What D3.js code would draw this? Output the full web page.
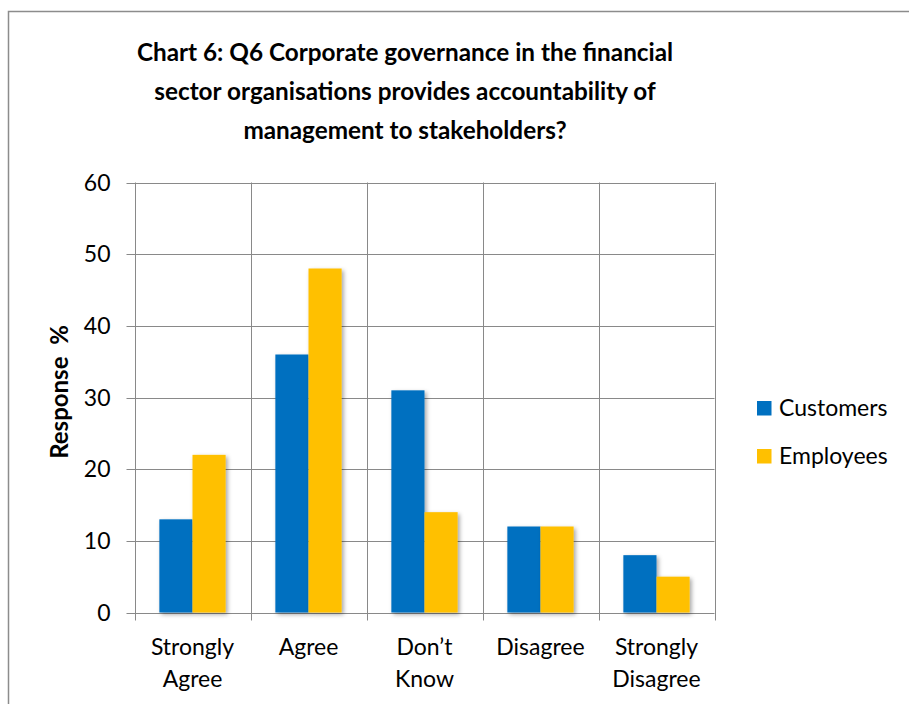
<!DOCTYPE html>
<html>
<head>
<meta charset="utf-8">
<script src="https://cdn.jsdelivr.net/npm/d3@7"></script>
<style>
  body { margin: 0; background: #fff; }
  svg { display: block; font-family: Lato, "Open Sans", sans-serif; }
</style>
</head>
<body>
<svg id="chart"></svg>
<script>
// data
var categories = [["Strongly", "Agree"], ["Agree"], ["Don\u2019t", "Know"], ["Disagree"], ["Strongly", "Disagree"]];
var seriesNames = ["Customers", "Employees"];
var customers = [13, 36, 31, 12, 8];
var employees = [22, 48, 14, 12, 5];
var yTicks = [0, 10, 20, 30, 40, 50, 60];
var titleLines = [
    "Chart 6: Q6 Corporate governance in the financial",
    "sector organisations provides accountability of",
    "management to stakeholders?"
];
var colors = ["#0070C0", "#FFC000"];

var width = 909;
var height = 704;
var margin = { top: 182.5, left: 134.5, right: 194.5, bottom: 91.5 };
var labelSize = 23;

var svg = d3.select("#chart")
    .attr("width", width)
    .attr("height", height);

// drop shadow like the office chart bars
var defs = svg.append("defs");
defs.append("filter")
    .attr("id", "shadow")
    .attr("x", "-20%").attr("y", "-20%")
    .attr("width", "150%").attr("height", "150%")
    .append("feDropShadow")
    .attr("dx", 2).attr("dy", 2)
    .attr("stdDeviation", 2)
    .attr("flood-color", "#000")
    .attr("flood-opacity", 0.35);

// outer border (top and left visible only)
svg.append("path")
    .attr("d", "M8.5," + height + "V11.5H" + width)
    .attr("fill", "none")
    .attr("stroke", "#8c8c8c")
    .attr("stroke-width", 1.5);

var x = d3.scaleBand()
    .domain(d3.range(categories.length))
    .range([margin.left, width - margin.right])
    .paddingInner(0)
    .paddingOuter(0);

var x1 = d3.scaleBand()
    .domain(seriesNames)
    .range([0, x.bandwidth()])
    .paddingOuter(0.75)
    .paddingInner(0);

var y = d3.scaleLinear()
    .domain([0, 60])
    .range([height - margin.bottom, margin.top]);

// gridlines
svg.append("g")
    .selectAll("line")
    .data(yTicks)
    .enter()
    .append("line")
    .attr("x1", margin.left - 8)
    .attr("x2", width - margin.right)
    .attr("y1", d => Math.round(y(d)) + 0.5)
    .attr("y2", d => Math.round(y(d)) + 0.5)
    .attr("stroke", "#898989")
    .attr("stroke-width", 1);

var bounds = d3.range(categories.length + 1).map(i => i < categories.length ? x(i) : x(i - 1) + x.bandwidth());
svg.append("g")
    .selectAll("line")
    .data(bounds)
    .enter()
    .append("line")
    .attr("x1", d => Math.round(d) + 0.5)
    .attr("x2", d => Math.round(d) + 0.5)
    .attr("y1", y(60))
    .attr("y2", y(0) + 8)
    .attr("stroke", "#898989")
    .attr("stroke-width", 1);

// bars
var seriesData = [customers, employees];
seriesData.forEach(function (values, s) {
    svg.append("g")
        .attr("filter", "url(#shadow)")
        .selectAll("rect")
        .data(values)
        .enter()
        .append("rect")
        .attr("x", (d, i) => x(i) + x1(seriesNames[s]))
        .attr("y", d => y(d))
        .attr("width", x1.bandwidth())
        .attr("height", d => y(0) - y(d))
        .attr("fill", colors[s]);
});

// y axis labels
svg.append("g")
    .selectAll("text")
    .data(yTicks)
    .enter()
    .append("text")
    .attr("x", margin.left - 24)
    .attr("y", d => y(d))
    .attr("dy", "0.35em")
    .attr("text-anchor", "end")
    .attr("font-size", labelSize)
    .attr("fill", "#000")
    .text(d => d);

// category labels
var catLabels = svg.append("g")
    .selectAll("text")
    .data(categories)
    .enter()
    .append("text")
    .attr("x", (d, i) => x(i) + x.bandwidth() / 2)
    .attr("y", 655)
    .attr("text-anchor", "middle")
    .attr("font-size", labelSize)
    .attr("fill", "#000");

catLabels.selectAll("tspan")
    .data(d => d)
    .enter()
    .append("tspan")
    .attr("x", function () { return d3.select(this.parentNode).attr("x"); })
    .attr("dy", (d, i) => i === 0 ? 0 : 32)
    .text(d => d);

// axis title
svg.append("text")
    .attr("transform", "translate(68,392) rotate(-90)")
    .attr("text-anchor", "middle")
    .attr("font-size", 24)
    .attr("font-weight", "bold")
    .attr("fill", "#000")
    .attr("xml:space", "preserve")
    .text("Response  %");

// title
svg.append("g")
    .selectAll("text")
    .data(titleLines)
    .enter()
    .append("text")
    .attr("x", 405)
    .attr("y", (d, i) => 61 + i * 39)
    .attr("text-anchor", "middle")
    .attr("font-size", 24.3)
    .attr("font-weight", "bold")
    .attr("fill", "#000")
    .text(d => d);

// legend
var legend = svg.append("g")
    .selectAll("g")
    .data(seriesNames)
    .enter()
    .append("g")
    .attr("transform", (d, i) => "translate(757," + (401 + i * 48) + ")");

legend.append("rect")
    .attr("width", 14.5)
    .attr("height", 14.5)
    .attr("fill", (d, i) => colors[i]);

legend.append("text")
    .attr("x", 22)
    .attr("y", 14.5)
    .attr("font-size", labelSize)
    .attr("fill", "#000")
    .text(d => d);
</script>
</body>
</html>
